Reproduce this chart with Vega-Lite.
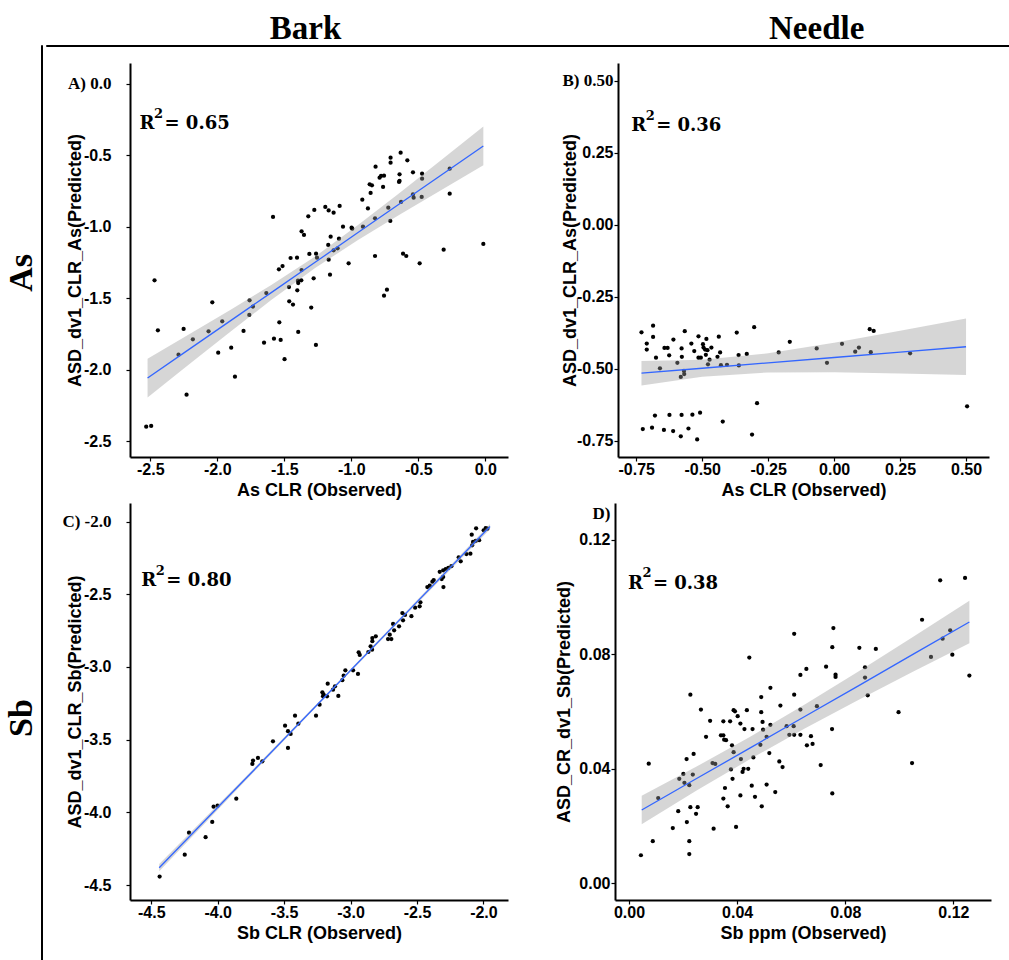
{
  "$schema": "https://vega.github.io/schema/vega-lite/v6.json",
  "padding": {"top": 11, "left": 4, "right": 0, "bottom": 0},
  "background": "white",
  "config": {
    "view": {"stroke": null},
    "concat": {"spacing": 0},
    "axis": {"grid": false, "domainColor": "black", "domainWidth": 2, "tickColor": "black", "tickSize": 4, "tickWidth": 1.2,
      "labelColor": "black", "labelFont": "Liberation Sans", "labelFontWeight": "bold", "labelFontSize": 16,
      "titleColor": "black", "titleFont": "Liberation Sans", "titleFontWeight": "bold", "titleFontSize": 18},
    "axisX": {"labelPadding": 0, "titlePadding": 4},
    "axisY": {"labelPadding": 1, "titlePadding": 2},
    "title": {"color": "black"}
  },
  "datasets": {
    "A_pts": [
      {"x":-1.584,"y":-0.932},{"x":-1.321,"y":-0.927},{"x":-1.276,"y":-0.883},{"x":-1.194,"y":-0.862},{"x":-1.169,"y":-0.886},{"x":-1.132,"y":-0.902},{"x":-1.087,"y":-0.855},{"x":-1.371,"y":-1.032},{"x":-1.353,"y":-1.058},{"x":-1.154,"y":-1.07},{"x":-1.092,"y":-1.084},{"x":-1.172,"y":-1.128},{"x":-1.132,"y":-1.165},{"x":-1.102,"y":-1.151},{"x":-1.062,"y":-1.0},{"x":-0.998,"y":-1.007},{"x":-0.993,"y":-1.014},{"x":-0.913,"y":-1.0},{"x":-0.918,"y":-0.811},{"x":-0.876,"y":-0.872},{"x":-0.863,"y":-0.704},{"x":-0.846,"y":-0.711},{"x":-0.856,"y":-0.764},{"x":-0.819,"y":-0.58},{"x":-0.789,"y":-0.657},{"x":-0.778,"y":-0.645},{"x":-0.756,"y":-0.643},{"x":-0.763,"y":-0.722},{"x":-0.823,"y":-0.941},{"x":-0.724,"y":-0.867},{"x":-0.707,"y":-0.517},{"x":-0.707,"y":-0.552},{"x":-0.632,"y":-0.482},{"x":-0.582,"y":-0.536},{"x":-0.64,"y":-0.634},{"x":-0.64,"y":-0.68},{"x":-0.644,"y":-0.687},{"x":-0.629,"y":-0.827},{"x":-0.709,"y":-0.96},{"x":-0.54,"y":-0.62},{"x":-0.472,"y":-0.629},{"x":-0.472,"y":-0.664},{"x":-0.54,"y":-0.774},{"x":-0.535,"y":-0.797},{"x":-0.475,"y":-0.792},{"x":-0.266,"y":-0.594},{"x":-0.266,"y":-0.769},{"x":-0.015,"y":-1.121},{"x":-0.311,"y":-1.161},{"x":-0.823,"y":-1.205},{"x":-0.614,"y":-1.189},{"x":-0.59,"y":-1.205},{"x":-1.453,"y":-1.219},{"x":-1.405,"y":-1.217},{"x":-1.313,"y":-1.191},{"x":-1.263,"y":-1.189},{"x":-1.256,"y":-1.217},{"x":-1.169,"y":-1.231},
      {"x":-2.468,"y":-1.375},{"x":-2.443,"y":-1.725},{"x":-2.53,"y":-2.399},{"x":-2.493,"y":-2.394},{"x":-2.251,"y":-1.715},{"x":-2.229,"y":-2.175},{"x":-2.289,"y":-1.895},{"x":-2.182,"y":-1.788},{"x":-2.065,"y":-1.732},{"x":-2.037,"y":-1.529},{"x":-1.963,"y":-1.662},{"x":-1.993,"y":-1.881},{"x":-1.896,"y":-1.846},{"x":-1.868,"y":-2.049},{"x":-1.804,"y":-1.729},{"x":-1.759,"y":-1.515},{"x":-1.734,"y":-1.559},{"x":-1.761,"y":-1.617},{"x":-1.634,"y":-1.464},{"x":-1.651,"y":-1.811},{"x":-1.577,"y":-1.783},{"x":-1.527,"y":-1.792},{"x":-1.537,"y":-1.669},{"x":-1.498,"y":-1.927},{"x":-1.463,"y":-1.522},{"x":-1.435,"y":-1.545},{"x":-1.465,"y":-1.422},{"x":-1.403,"y":-1.445},{"x":-1.396,"y":-1.394},{"x":-1.398,"y":-1.378},{"x":-1.373,"y":-1.375},{"x":-1.371,"y":-1.303},{"x":-1.396,"y":-1.736},{"x":-1.54,"y":-1.298},{"x":-1.513,"y":-1.275},{"x":-1.299,"y":-1.566},{"x":-1.281,"y":-1.361},{"x":-1.264,"y":-1.827},{"x":-1.159,"y":-1.336},{"x":-1.02,"y":-1.256},{"x":-0.756,"y":-1.483},{"x":-0.734,"y":-1.441},{"x":-0.49,"y":-1.256}
    ],
    "A_fit": [
      {"x":-2.52,"lo":-2.194,"hi":-1.924,"fit":-2.059},{"x":-2.2,"lo":-1.955,"hi":-1.747,"fit":-1.851},{"x":-1.9,"lo":-1.733,"hi":-1.581,"fit":-1.657},{"x":-1.6,"lo":-1.515,"hi":-1.41,"fit":-1.463},{"x":-1.27,"lo":-1.289,"hi":-1.209,"fit":-1.249},{"x":-0.95,"lo":-1.093,"hi":-0.989,"fit":-1.041},{"x":-0.65,"lo":-0.922,"hi":-0.772,"fit":-0.847},{"x":-0.35,"lo":-0.756,"hi":-0.55,"fit":-0.653},{"x":-0.015,"lo":-0.57,"hi":-0.3,"fit":-0.435}
    ],
    "A_lab": [{"x":-2.58,"y":-0.317,"t":"= 0.65"}],
    "B_pts": [
      {"x":-0.730,"y":-0.373},{"x":-0.686,"y":-0.350},{"x":-0.710,"y":-0.412},{"x":-0.710,"y":-0.433},{"x":-0.686,"y":-0.389},{"x":-0.675,"y":-0.461},{"x":-0.660,"y":-0.498},{"x":-0.643,"y":-0.427},{"x":-0.631,"y":-0.427},{"x":-0.625,"y":-0.453},{"x":-0.609,"y":-0.398},{"x":-0.594,"y":-0.479},{"x":-0.578,"y":-0.429},{"x":-0.577,"y":-0.458},{"x":-0.566,"y":-0.369},{"x":-0.581,"y":-0.528},{"x":-0.568,"y":-0.518},{"x":-0.569,"y":-0.507},{"x":-0.541,"y":-0.412},{"x":-0.530,"y":-0.438},{"x":-0.514,"y":-0.387},{"x":-0.514,"y":-0.461},{"x":-0.505,"y":-0.461},{"x":-0.497,"y":-0.414},{"x":-0.495,"y":-0.426},{"x":-0.489,"y":-0.433},{"x":-0.484,"y":-0.396},{"x":-0.480,"y":-0.435},{"x":-0.486,"y":-0.451},{"x":-0.478,"y":-0.484},{"x":-0.472,"y":-0.468},{"x":-0.465,"y":-0.426},{"x":-0.442,"y":-0.458},{"x":-0.437,"y":-0.388},{"x":-0.432,"y":-0.443},{"x":-0.429,"y":-0.487},{"x":-0.406,"y":-0.486},{"x":-0.369,"y":-0.374},{"x":-0.362,"y":-0.452},{"x":-0.361,"y":-0.488},{"x":-0.331,"y":-0.448},{"x":-0.303,"y":-0.355},{"x":-0.210,"y":-0.443},{"x":-0.168,"y":-0.406},{"x":-0.066,"y":-0.429},{"x":-0.027,"y":-0.479},{"x":0.030,"y":-0.413},{"x":0.080,"y":-0.440},{"x":0.094,"y":-0.426},{"x":0.139,"y":-0.442},{"x":0.135,"y":-0.362},{"x":0.150,"y":-0.368},{"x":0.288,"y":-0.446},{"x":0.504,"y":-0.630},{"x":-0.292,"y":-0.619},{"x":-0.311,"y":-0.728},{"x":-0.422,"y":-0.683},{"x":-0.508,"y":-0.652},{"x":-0.537,"y":-0.659},{"x":-0.578,"y":-0.660},{"x":-0.624,"y":-0.660},{"x":-0.679,"y":-0.662},{"x":-0.725,"y":-0.709},{"x":-0.690,"y":-0.704},{"x":-0.645,"y":-0.712},{"x":-0.610,"y":-0.716},{"x":-0.581,"y":-0.734},{"x":-0.552,"y":-0.707},{"x":-0.519,"y":-0.745}
    ],
    "B_fit": [
      {"x":-0.73,"lo":-0.5575,"hi":-0.4725,"fit":-0.515},{"x":-0.5,"lo":-0.5272,"hi":-0.4684,"fit":-0.4978},{"x":-0.25,"lo":-0.5123,"hi":-0.4459,"fit":-0.4791},{"x":0,"lo":-0.5119,"hi":-0.4089,"fit":-0.4604},{"x":0.25,"lo":-0.5161,"hi":-0.3675,"fit":-0.4418},{"x":0.5,"lo":-0.5216,"hi":-0.3246,"fit":-0.4231}
    ],
    "B_lab": [{"x":-0.769,"y":0.326,"t":"= 0.36"}],
    "C_pts": [
      {"x":-2.055,"y":-2.046},{"x":-1.983,"y":-2.044},{"x":-1.970,"y":-2.049},{"x":-1.998,"y":-2.060},{"x":-2.088,"y":-2.090},{"x":-2.078,"y":-2.140},{"x":-2.058,"y":-2.133},{"x":-2.032,"y":-2.128},{"x":-2.085,"y":-2.163},{"x":-2.128,"y":-2.223},{"x":-2.098,"y":-2.221},{"x":-2.186,"y":-2.246},{"x":-2.171,"y":-2.273},{"x":-2.241,"y":-2.307},{"x":-2.264,"y":-2.319},{"x":-2.284,"y":-2.326},{"x":-2.303,"y":-2.335},{"x":-2.329,"y":-2.345},{"x":-2.303,"y":-2.381},{"x":-2.314,"y":-2.395},{"x":-2.374,"y":-2.402},{"x":-2.384,"y":-2.413},{"x":-2.301,"y":-2.450},{"x":-2.404,"y":-2.441},{"x":-2.422,"y":-2.450},{"x":-2.474,"y":-2.555},{"x":-2.480,"y":-2.583},{"x":-2.514,"y":-2.592},{"x":-2.542,"y":-2.651},{"x":-2.610,"y":-2.629},{"x":-2.605,"y":-2.679},{"x":-2.590,"y":-2.642},{"x":-2.635,"y":-2.720},{"x":-2.680,"y":-2.704},{"x":-2.672,"y":-2.748},{"x":-2.705,"y":-2.778},{"x":-2.718,"y":-2.808},{"x":-2.693,"y":-2.808},{"x":-2.810,"y":-2.789},{"x":-2.836,"y":-2.801},{"x":-2.836,"y":-2.823},{"x":-2.849,"y":-2.858},{"x":-2.838,"y":-2.881},{"x":-2.866,"y":-2.897},{"x":-2.939,"y":-2.899},{"x":-2.931,"y":-2.917},{"x":-2.981,"y":-3.023},{"x":-2.944,"y":-3.048},{"x":-3.039,"y":-3.023},{"x":-3.052,"y":-3.060},{"x":-3.062,"y":-3.091},{"x":-3.117,"y":-3.133},{"x":-3.132,"y":-3.156},{"x":-3.172,"y":-3.115},{"x":-3.212,"y":-3.174},{"x":-3.203,"y":-3.190},{"x":-3.207,"y":-3.202},{"x":-3.177,"y":-3.202},{"x":-3.092,"y":-3.199},{"x":-3.233,"y":-3.259},{"x":-3.418,"y":-3.335},{"x":-3.260,"y":-3.335},{"x":-3.393,"y":-3.390},{"x":-3.493,"y":-3.404},{"x":-3.471,"y":-3.442},{"x":-3.451,"y":-3.461},{"x":-3.471,"y":-3.557},{"x":-3.584,"y":-3.511},{"x":-3.697,"y":-3.626},{"x":-3.734,"y":-3.644},{"x":-3.739,"y":-3.667},{"x":-3.664,"y":-3.649},{"x":-3.860,"y":-3.906},{"x":-4.031,"y":-3.961},{"x":-4.001,"y":-3.954},{"x":-4.041,"y":-4.066},{"x":-4.216,"y":-4.140},{"x":-4.091,"y":-4.171},{"x":-4.248,"y":-4.291},{"x":-4.437,"y":-4.442}
    ],
    "C_fit": [
      {"x":-4.44,"lo":-4.406,"hi":-4.356,"fit":-4.381},{"x":-3.8,"lo":-3.791,"hi":-3.765,"fit":-3.778},{"x":-3.2,"lo":-3.221,"hi":-3.203,"fit":-3.212},{"x":-2.6,"lo":-2.658,"hi":-2.636,"fit":-2.647},{"x":-1.95,"lo":-2.052,"hi":-2.016,"fit":-2.034}
    ],
    "C_lab": [{"x":-4.575,"y":-2.443,"t":"= 0.80"}],
    "D_pts": [
      {"x":0.1151,"y":0.1058},{"x":0.1243,"y":0.1066},{"x":0.1084,"y":0.0920},{"x":0.1188,"y":0.0883},{"x":0.1160,"y":0.0854},{"x":0.1117,"y":0.0790},{"x":0.1196,"y":0.0798},{"x":0.1259,"y":0.0725},{"x":0.0611,"y":0.0871},{"x":0.0756,"y":0.0891},{"x":0.0752,"y":0.0824},{"x":0.0852,"y":0.0822},{"x":0.0913,"y":0.0818},{"x":0.0445,"y":0.0788},{"x":0.0656,"y":0.0748},{"x":0.0634,"y":0.0727},{"x":0.0729,"y":0.0756},{"x":0.0764,"y":0.0728},{"x":0.0764,"y":0.0720},{"x":0.0873,"y":0.0754},{"x":0.0873,"y":0.0718},{"x":0.0883,"y":0.0656},{"x":0.0227,"y":0.0658},{"x":0.0611,"y":0.0658},{"x":0.0523,"y":0.0682},{"x":0.0489,"y":0.0650},{"x":0.0560,"y":0.0620},{"x":0.0634,"y":0.0606},{"x":0.0695,"y":0.0618},{"x":0.0266,"y":0.0606},{"x":0.0387,"y":0.0604},{"x":0.0392,"y":0.0600},{"x":0.0436,"y":0.0604},{"x":0.0489,"y":0.0597},{"x":0.0997,"y":0.0597},
      {"x":0.1047,"y":0.0419},{"x":0.0300,"y":0.0567},{"x":0.0349,"y":0.0565},{"x":0.0374,"y":0.0565},{"x":0.0402,"y":0.0583},{"x":0.0412,"y":0.0557},{"x":0.0427,"y":0.0538},{"x":0.0457,"y":0.0538},{"x":0.0494,"y":0.0563},{"x":0.0496,"y":0.0536},{"x":0.0523,"y":0.0553},{"x":0.0583,"y":0.0548},{"x":0.0609,"y":0.0548},{"x":0.0593,"y":0.0518},{"x":0.0611,"y":0.0518},{"x":0.0634,"y":0.0518},{"x":0.0673,"y":0.0513},{"x":0.0658,"y":0.0481},{"x":0.0679,"y":0.0486},{"x":0.0751,"y":0.0538},{"x":0.0709,"y":0.0412},{"x":0.0752,"y":0.0313},{"x":0.0285,"y":0.0511},{"x":0.0340,"y":0.0516},{"x":0.0349,"y":0.0516},{"x":0.0352,"y":0.0501},{"x":0.0359,"y":0.0499},{"x":0.0381,"y":0.0481},{"x":0.0387,"y":0.0457},{"x":0.0509,"y":0.0511},{"x":0.0486,"y":0.0483},{"x":0.0519,"y":0.0454},{"x":0.0414,"y":0.0433},{"x":0.0460,"y":0.0439},{"x":0.0556,"y":0.0425},{"x":0.0568,"y":0.0405},{"x":0.0309,"y":0.0419},{"x":0.0319,"y":0.0416},{"x":0.0377,"y":0.0397},{"x":0.0424,"y":0.0399},{"x":0.0420,"y":0.0388},{"x":0.0441,"y":0.0399},{"x":0.0383,"y":0.0364},{"x":0.0355,"y":0.0332},{"x":0.0454,"y":0.0340},{"x":0.0509,"y":0.0344},{"x":0.0541,"y":0.0318},{"x":0.0349,"y":0.0295},{"x":0.0365,"y":0.0268},{"x":0.0412,"y":0.0306},{"x":0.0466,"y":0.0301},{"x":0.0491,"y":0.0268},{"x":0.0313,"y":0.0190},{"x":0.0396,"y":0.0196},{"x":0.0073,"y":0.0417},{"x":0.0108,"y":0.0297},{"x":0.0182,"y":0.0251},{"x":0.0162,"y":0.0192},{"x":0.0213,"y":0.0433},{"x":0.0201,"y":0.0381},{"x":0.0186,"y":0.0364},{"x":0.0205,"y":0.0350},{"x":0.0223,"y":0.0342},{"x":0.0236,"y":0.0379},{"x":0.0239,"y":0.0451},{"x":0.0227,"y":0.0265},{"x":0.0248,"y":0.0242},{"x":0.0254,"y":0.0265},{"x":0.0214,"y":0.0213},{"x":0.0223,"y":0.0146},{"x":0.0223,"y":0.0101},{"x":0.0088,"y":0.0146},{"x":0.0044,"y":0.0097}
    ],
    "D_fit": [
      {"x":0.0047,"lo":0.0205,"hi":0.0305,"fit":0.0255},{"x":0.025,"lo":0.0323,"hi":0.0407,"fit":0.0365},{"x":0.045,"lo":0.0434,"hi":0.0512,"fit":0.0473},{"x":0.065,"lo":0.054,"hi":0.0624,"fit":0.0582},{"x":0.085,"lo":0.064,"hi":0.074,"fit":0.069},{"x":0.105,"lo":0.0738,"hi":0.086,"fit":0.0799},{"x":0.1259,"lo":0.0838,"hi":0.0986,"fit":0.0912}
    ],
    "D_lab": [{"x":-0.0004,"y":0.1028,"t":"= 0.38"}],
    "rows": [{"r": "As"}, {"r": "Sb"}],
    "cols": [{"h": "Bark"}, {"h": "Needle"}],
    "one": [{"k": 1}]
  },
  "hconcat": [
    {
      "width": 1, "height": 915, "view": {"stroke": "black", "strokeWidth": 1},
      "data": {"name": "rows"},
      "mark": {"type": "text", "angle": 270, "dy": -20, "align": "center", "baseline": "middle", "font": "Liberation Serif", "fontSize": 34, "fontWeight": "bold", "color": "black"},
      "encoding": {
        "y": {"field": "r", "type": "nominal", "axis": null, "scale": {"type": "point", "domain": ["As", "Sb"], "padding": 0.528, "align": 0.485}},
        "text": {"field": "r"}
      }
    },
    {
      "spacing": 11,
      "vconcat": [
        {
          "width": 964, "height": 1, "view": {"stroke": "black", "strokeWidth": 1},
          "data": {"name": "cols"},
          "mark": {"type": "point", "opacity": 0},
          "encoding": {
            "x": {"field": "h", "type": "nominal", "title": null,
              "scale": {"type": "point", "domain": ["Bark", "Needle"], "padding": 0.443, "align": 0.572},
              "axis": {"orient": "top", "domain": false, "ticks": false, "labelAngle": 0, "labelPadding": 0,
                "labelFont": "Liberation Serif", "labelFontSize": 33, "labelFontWeight": "bold", "labelColor": "black"}}
          }
        },
        {
          "spacing": 11,
          "hconcat": [
            {"width": 1, "height": 1, "data": {"name": "one"}, "mark": {"type": "point", "opacity": 0}, "encoding": {}},
            {
              "spacing": 4,
              "vconcat": [
                {
                  "spacing": 53,
                  "hconcat": [
                    {
                      "width": 378, "height": 394,
                      "encoding": {"x": {"field": "x", "type": "quantitative", "title": "As CLR (Observed)",
                        "scale": {"domain": [-2.651, 0.169], "nice": false, "zero": false},
                        "axis": {"values": [-2.5, -2, -1.5, -1, -0.5, 0], "labelExpr": "replace(format(datum.value, '.1f'), '\u2212', '-')"}}},
                      "layer": [
                        {"data": {"name": "A_pts"}, "mark": {"type": "circle", "color": "black", "size": 18, "opacity": 1},
                         "encoding": {"y": {"field": "y", "type": "quantitative", "title": "ASD_dv1_CLR_As(Predicted)",
                           "scale": {"domain": [-2.611, 0.145], "nice": false, "zero": false},
                           "axis": {"values": [0, -0.5, -1, -1.5, -2, -2.5],
                             "labelExpr": "datum.value == 0 ? 'A) 0.0' : replace(format(datum.value, '.1f'), '\u2212', '-')",
                             "labelFont": {"condition": {"test": "datum.value == 0", "value": "Liberation Serif"}, "value": "Liberation Sans"},
                             "labelFontSize": {"condition": {"test": "datum.value == 0", "value": 17}, "value": 16},
                             "labelPadding": 15, "minExtent": 44, "maxExtent": 44, "titlePadding": 2}}}},
                        {"data": {"name": "A_fit"}, "mark": {"type": "area", "color": "#999999", "opacity": 0.4},
                         "encoding": {"y": {"field": "lo", "type": "quantitative", "title": "ASD_dv1_CLR_As(Predicted)"}, "y2": {"field": "hi"}}},
                        {"data": {"name": "A_fit"}, "mark": {"type": "line", "color": "#3366FF", "strokeWidth": 1.3},
                         "encoding": {"y": {"field": "fit", "type": "quantitative", "title": "ASD_dv1_CLR_As(Predicted)"}}},
                        {"data": {"name": "A_lab"}, "mark": {"type": "text", "align": "left", "baseline": "alphabetic", "font": "DejaVu Serif", "fontSize": 18, "fontWeight": "bold", "color": "black"},
                         "encoding": {"y": {"field": "y", "type": "quantitative", "title": "ASD_dv1_CLR_As(Predicted)"}, "text": {"value": "R"}}},
                        {"data": {"name": "A_lab"}, "mark": {"type": "text", "align": "left", "baseline": "alphabetic", "dx": 14.5, "dy": -11.5, "font": "DejaVu Serif", "fontSize": 13, "fontWeight": "bold", "color": "black"},
                         "encoding": {"y": {"field": "y", "type": "quantitative", "title": "ASD_dv1_CLR_As(Predicted)"}, "text": {"value": "2"}}},
                        {"data": {"name": "A_lab"}, "mark": {"type": "text", "align": "left", "baseline": "alphabetic", "dx": 25, "font": "DejaVu Serif", "fontSize": 18, "fontWeight": "bold", "color": "black"},
                         "encoding": {"y": {"field": "y", "type": "quantitative", "title": "ASD_dv1_CLR_As(Predicted)"}, "text": {"field": "t"}}}
                      ]
                    },
                    {
                      "width": 371, "height": 394,
                      "encoding": {"x": {"field": "x", "type": "quantitative", "title": "As CLR (Observed)",
                        "scale": {"domain": [-0.819, 0.587], "nice": false, "zero": false},
                        "axis": {"values": [-0.75, -0.5, -0.25, 0, 0.25, 0.5], "labelExpr": "replace(format(datum.value, '.2f'), '\u2212', '-')"}}},
                      "layer": [
                        {"data": {"name": "B_pts"}, "mark": {"type": "circle", "color": "black", "size": 18, "opacity": 1},
                         "encoding": {"y": {"field": "y", "type": "quantitative", "title": "ASD_dv1_CLR_As(Predicted)",
                           "scale": {"domain": [-0.806, 0.5625], "nice": false, "zero": false},
                           "axis": {"values": [0.5, 0.25, 0, -0.25, -0.5, -0.75],
                             "labelExpr": "datum.value == 0.5 ? 'B) 0.50' : replace(format(datum.value, '.2f'), '\u2212', '-')",
                             "labelFont": {"condition": {"test": "datum.value == 0.5", "value": "Liberation Serif"}, "value": "Liberation Sans"},
                             "labelFontSize": {"condition": {"test": "datum.value == 0.5", "value": 17}, "value": 16},
                             "labelPadding": 1, "minExtent": 39, "maxExtent": 39, "titlePadding": 0}}}},
                        {"data": {"name": "B_fit"}, "mark": {"type": "area", "color": "#999999", "opacity": 0.4},
                         "encoding": {"y": {"field": "lo", "type": "quantitative", "title": "ASD_dv1_CLR_As(Predicted)"}, "y2": {"field": "hi"}}},
                        {"data": {"name": "B_fit"}, "mark": {"type": "line", "color": "#3366FF", "strokeWidth": 1.3},
                         "encoding": {"y": {"field": "fit", "type": "quantitative", "title": "ASD_dv1_CLR_As(Predicted)"}}},
                        {"data": {"name": "B_lab"}, "mark": {"type": "text", "align": "left", "baseline": "alphabetic", "font": "DejaVu Serif", "fontSize": 18, "fontWeight": "bold", "color": "black"},
                         "encoding": {"y": {"field": "y", "type": "quantitative", "title": "ASD_dv1_CLR_As(Predicted)"}, "text": {"value": "R"}}},
                        {"data": {"name": "B_lab"}, "mark": {"type": "text", "align": "left", "baseline": "alphabetic", "dx": 14.5, "dy": -11.5, "font": "DejaVu Serif", "fontSize": 13, "fontWeight": "bold", "color": "black"},
                         "encoding": {"y": {"field": "y", "type": "quantitative", "title": "ASD_dv1_CLR_As(Predicted)"}, "text": {"value": "2"}}},
                        {"data": {"name": "B_lab"}, "mark": {"type": "text", "align": "left", "baseline": "alphabetic", "dx": 25, "font": "DejaVu Serif", "fontSize": 18, "fontWeight": "bold", "color": "black"},
                         "encoding": {"y": {"field": "y", "type": "quantitative", "title": "ASD_dv1_CLR_As(Predicted)"}, "text": {"field": "t"}}}
                      ]
                    }
                  ]
                },
                {
                  "spacing": 47,
                  "hconcat": [
                    {
                      "width": 378, "height": 397,
                      "encoding": {"x": {"field": "x", "type": "quantitative", "title": "Sb CLR (Observed)",
                        "scale": {"domain": [-4.66, -1.815], "nice": false, "zero": false},
                        "axis": {"values": [-4.5, -4, -3.5, -3, -2.5, -2], "labelExpr": "replace(format(datum.value, '.1f'), '\u2212', '-')"}}},
                      "layer": [
                        {"data": {"name": "C_pts"}, "mark": {"type": "circle", "color": "black", "size": 18, "opacity": 1},
                         "encoding": {"y": {"field": "y", "type": "quantitative", "title": "ASD_dv1_CLR_Sb(Predicted)",
                           "scale": {"domain": [-4.603, -1.872], "nice": false, "zero": false},
                           "axis": {"values": [-2, -2.5, -3, -3.5, -4, -4.5],
                             "labelExpr": "datum.value == -2 ? 'C) -2.0' : replace(format(datum.value, '.1f'), '\u2212', '-')",
                             "labelFont": {"condition": {"test": "datum.value == -2", "value": "Liberation Serif"}, "value": "Liberation Sans"},
                             "labelFontSize": {"condition": {"test": "datum.value == -2", "value": 17}, "value": 16},
                             "labelPadding": 15, "minExtent": 44, "maxExtent": 44, "titlePadding": 2}}}},
                        {"data": {"name": "C_fit"}, "mark": {"type": "area", "color": "#999999", "opacity": 0.4},
                         "encoding": {"y": {"field": "lo", "type": "quantitative", "title": "ASD_dv1_CLR_Sb(Predicted)"}, "y2": {"field": "hi"}}},
                        {"data": {"name": "C_fit"}, "mark": {"type": "line", "color": "#3366FF", "strokeWidth": 1.3},
                         "encoding": {"y": {"field": "fit", "type": "quantitative", "title": "ASD_dv1_CLR_Sb(Predicted)"}}},
                        {"data": {"name": "C_lab"}, "mark": {"type": "text", "align": "left", "baseline": "alphabetic", "font": "DejaVu Serif", "fontSize": 18, "fontWeight": "bold", "color": "black"},
                         "encoding": {"y": {"field": "y", "type": "quantitative", "title": "ASD_dv1_CLR_Sb(Predicted)"}, "text": {"value": "R"}}},
                        {"data": {"name": "C_lab"}, "mark": {"type": "text", "align": "left", "baseline": "alphabetic", "dx": 14.5, "dy": -11.5, "font": "DejaVu Serif", "fontSize": 13, "fontWeight": "bold", "color": "black"},
                         "encoding": {"y": {"field": "y", "type": "quantitative", "title": "ASD_dv1_CLR_Sb(Predicted)"}, "text": {"value": "2"}}},
                        {"data": {"name": "C_lab"}, "mark": {"type": "text", "align": "left", "baseline": "alphabetic", "dx": 25, "font": "DejaVu Serif", "fontSize": 18, "fontWeight": "bold", "color": "black"},
                         "encoding": {"y": {"field": "y", "type": "quantitative", "title": "ASD_dv1_CLR_Sb(Predicted)"}, "text": {"field": "t"}}}
                      ]
                    },
                    {
                      "width": 376, "height": 397,
                      "encoding": {"x": {"field": "x", "type": "quantitative", "title": "Sb ppm (Observed)",
                        "scale": {"domain": [-0.00518, 0.1339], "nice": false, "zero": false},
                        "axis": {"values": [0, 0.04, 0.08, 0.12], "format": ".2f"}}},
                      "layer": [
                        {"data": {"name": "D_pts"}, "mark": {"type": "circle", "color": "black", "size": 18, "opacity": 1},
                         "encoding": {"y": {"field": "y", "type": "quantitative", "title": "ASD_CR_dv1_Sb(Predicted)",
                           "scale": {"domain": [-0.00594, 0.1328], "nice": false, "zero": false},
                           "axis": {"values": [0, 0.04, 0.08, 0.12, 0.1293],
                             "labelExpr": "datum.value > 0.125 ? 'D)' : format(datum.value, '.2f')",
                             "labelFont": {"condition": {"test": "datum.value > 0.125", "value": "Liberation Serif"}, "value": "Liberation Sans"},
                             "labelFontSize": {"condition": {"test": "datum.value > 0.125", "value": 17}, "value": 16},
                             "tickOpacity": {"condition": {"test": "datum.value > 0.125", "value": 0}, "value": 1},
                             "labelPadding": 1, "minExtent": 40, "maxExtent": 40, "titlePadding": 2}}}},
                        {"data": {"name": "D_fit"}, "mark": {"type": "area", "color": "#999999", "opacity": 0.4},
                         "encoding": {"y": {"field": "lo", "type": "quantitative", "title": "ASD_CR_dv1_Sb(Predicted)"}, "y2": {"field": "hi"}}},
                        {"data": {"name": "D_fit"}, "mark": {"type": "line", "color": "#3366FF", "strokeWidth": 1.3},
                         "encoding": {"y": {"field": "fit", "type": "quantitative", "title": "ASD_CR_dv1_Sb(Predicted)"}}},
                        {"data": {"name": "D_lab"}, "mark": {"type": "text", "align": "left", "baseline": "alphabetic", "font": "DejaVu Serif", "fontSize": 18, "fontWeight": "bold", "color": "black"},
                         "encoding": {"y": {"field": "y", "type": "quantitative", "title": "ASD_CR_dv1_Sb(Predicted)"}, "text": {"value": "R"}}},
                        {"data": {"name": "D_lab"}, "mark": {"type": "text", "align": "left", "baseline": "alphabetic", "dx": 14.5, "dy": -11.5, "font": "DejaVu Serif", "fontSize": 13, "fontWeight": "bold", "color": "black"},
                         "encoding": {"y": {"field": "y", "type": "quantitative", "title": "ASD_CR_dv1_Sb(Predicted)"}, "text": {"value": "2"}}},
                        {"data": {"name": "D_lab"}, "mark": {"type": "text", "align": "left", "baseline": "alphabetic", "dx": 25, "font": "DejaVu Serif", "fontSize": 18, "fontWeight": "bold", "color": "black"},
                         "encoding": {"y": {"field": "y", "type": "quantitative", "title": "ASD_CR_dv1_Sb(Predicted)"}, "text": {"field": "t"}}}
                      ]
                    }
                  ]
                }
              ]
            }
          ]
        }
      ]
    }
  ]
}
